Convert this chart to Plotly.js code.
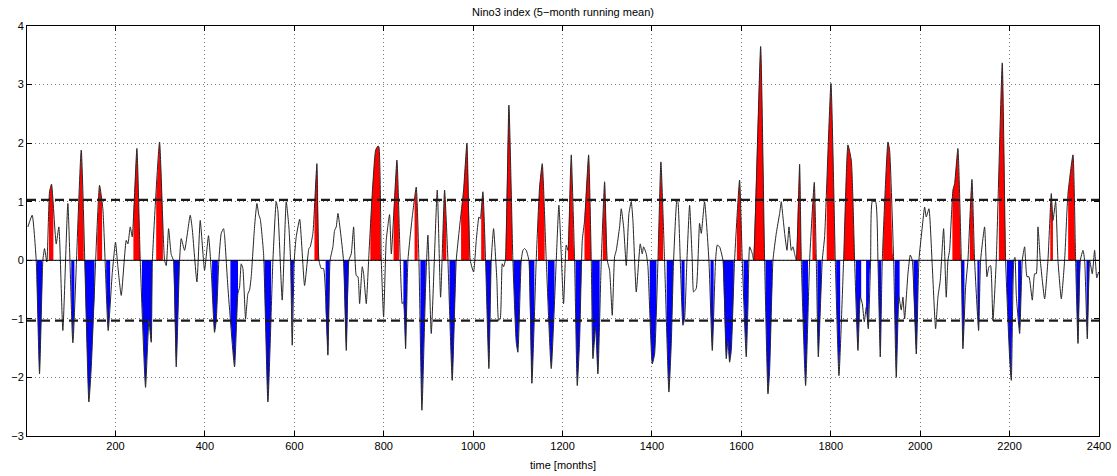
<!DOCTYPE html>
<html><head><meta charset="utf-8">
<script src="https://cdn.plot.ly/plotly-3.0.1.min.js"></script>
<style>html,body{margin:0;padding:0;background:#fff}#chart{width:1117px;height:476px}</style>
</head><body><div id="chart"></div>
<script>
const months = [4,13.6,22.6,30,37.5,41.2,46.4,52.4,56.9,67.3,73.3,82.2,93.4,104.6,123.3,140.4,145.6,164.3,171.7,183.6,192.6,200,
205.3,212.8,224,227.7,233,237.4,247.8,255.3,267.2,274.7,279.9,282.5,298.5,309.7,313.5,318.7,324.6,329.5,335.8,343.3,347,354.5,367.1,371.6,382.1,389.5,399.2,408,
414.1,421.5,425.3,431.2,436.5,441.7,443.9,451.4,466.3,473.7,477.5,481.2,484.9,490.9,496.1,499.8,503.6,511,516.3,520.7,523.7,531.2,540.9,552.1,559.5,563.2,572.9,581.9,587.8,591.6,595.3,599.8,604.2,
612,622.9,632.6,635.6,641.6,650.5,655,660.2,665.4,675.1,680,686.3,690.1,693.8,697.5,710,716.2,722,727.3,732.6,738.5,742.3,746,752,755,760.9,766.9,774.3,781.8,787,789.2,794.5,799.7,
805.6,813,817,829.5,836.9,841.4,844.4,848.9,854.1,863.8,872.7,878.7,885.4,893.6,898.8,906.3,919.7,927.2,936.1,943.6,953.2,962.2,969.7,978.6,986.1,993.5,1001,
1007,1013,1016,1021.8,1027.8,1035.2,1040.5,1045.7,1053.1,1056.9,1060.6,1065.1,1068.1,1072,1080,1088.9,1096.4,1100.1,1107.6,1111.3,1115,1118.8,1124.7,1131.4,1141.1,1148.6,1154.6,1163.5,1174.7,1185.9,1191.8,1202.3,1208.2,1212,1217.2,
1219.5,1226.9,1232.9,1238.1,1244.1,1249.3,1258.3,1264.2,1268,1273.9,1279.1,1286.6,1294.1,1300,1305.2,1311.2,1316.4,1320.2,1327.6,1331.3,1336.6,1342.5,1348.5,1353.7,1357.4,1364.9,1373.8,1378.3,1381.3,1387.3,1391,1400.7,1405.9,1413.4,
1420,1428.2,1437.9,1443.2,1448.4,1455.8,1458.1,1463.3,1469.3,1473,1478.2,1484.2,1490.1,1493.1,1499.1,1506.5,1510.3,1517.7,1527.4,1534.9,1542.3,1546.1,1551.3,1558.7,1566.2,1569.9,1573.7,1577.4,1584.8,1596,1602,1610.9,1614.7,1618.5,
1625,1627.4,1643.1,1652,1659.5,1663.2,1670.7,1678.1,1685.6,1689.3,1693,1696.8,1702,1706.5,1711.7,1715.4,1719.1,1722.9,1730.3,1734,1743.7,1752.7,1763.1,1767.6,1772.1,1781,1786.2,1800.4,1810.1,
1818.3,1828.7,1838.4,1845.9,1849.6,1853.3,1860.8,1866,1870.5,1875,1879.4,1883.9,1889.1,1892.8,1900.3,1905.5,1910.7,1915.2,1927.9,1931.6,1940.6,1946.5,1952.5,1957.7,1961.4,1965.2,1972.6,1977.8,1982.3,1991.3,1997.2,2004.7,2009.9,2013.6,
2019.6,2027,2034.5,2039.7,2044.9,2052.4,2058.3,2062.1,2065.8,2073.3,2077,2084.4,2091.9,2095.6,2101.6,2106.8,2115.8,2121.7,2130.7,2135.2,2144.1,2149.3,2153.8,2157.5,2162.7,2170.2,2183.6,2191.1,2200,2203.8,2209.5,2212,2215,
2222.5,2228.4,2233.6,2238.9,2243.3,2250.8,2256,2259.7,2263.5,2268.7,2278.4,2285.8,2293.3,2297,2303,2308.2,2315.7,2323.1,2330.6,2341.8,2347.7,2353,2358.2,2364.2,2367.9,2373.8,2379.1,2385,2390.2,2395,2399];

const nino3 = [0.57,0.77,0,-1.94,0,0.2,-0.03,1.17,1.30,0.28,0.57,-1.2,0.97,-1.41,1.88,-2.42,-1.85,1.28,0.88,-1.2,-0.23,0.31,
-0.11,-0.6,0.34,0.28,0.57,0.4,1.91,0,-2.17,-1.03,-1.4,0,2.02,0,-0.09,0.54,0.1,0,-1.82,0,0.37,0.17,0.77,0.54,-0.37,0.68,-0.17,0.42,
-0.17,-1.23,-1.03,0,0.46,0.54,0.43,-0.46,-1.82,-0.57,-0.46,-0.06,-0.14,-1.0,-0.57,-0.51,-0.28,0.57,0.97,0.77,0.71,0.11,-2.42,0,1.0,0.85,-0.68,1.0,0.57,0,-1.45,0,0.4,
0.7,-0.43,0.2,0.23,0.46,1.65,0,-0.14,-0.14,-1.62,0,0.23,0.51,0.57,0.8,0,-1.54,0,0.11,0.57,-0.26,-0.28,-0.74,-0.11,-0.23,-0.74,0.11,1.14,1.88,1.95,1.94,0,-0.97,
0.34,0.78,0.11,1.71,0,-0.74,-0.71,-1.51,0,0.74,1.25,0,-2.56,-0.46,0.43,-1.25,1.2,-0.63,1.2,0,-2.05,0,0.57,1.2,2.0,0,-0.2,
0.34,0.74,0.71,1.17,0,-1.85,0,0.54,-0.34,-1.03,-1.0,-0.06,-0.11,0,2.65,0,-1.4,-1.57,0,0.17,0.2,0.17,0,-2.1,0,1.25,1.65,0,-1.85,0,0.94,-0.74,0.26,0.17,1.37,
1.8,0,-2.14,-1.37,0.34,0.68,1.8,0,-1.68,-1.14,-1.94,0,1.34,0,-0.17,-0.94,0.06,0.17,0.57,0.88,0.57,-0.09,0.8,1.0,0.68,-0.54,0.28,0.11,0.23,0.11,-0.11,-1.77,-1.6,0,
1.68,0,-2.25,-1.42,0,1.03,1.0,0,-1.11,-1.0,0,0.94,0,-0.54,-0.48,0.63,0.46,1.0,0,-1.54,0,0.26,0.23,0,-1.68,-1.37,-1.74,-1.54,0,1.37,0,-1.65,-0.8,0.23,
0.1,0,3.65,0,-2.28,-1.88,0,0.46,0.8,1.0,0.74,0.46,0.17,0.57,0.17,0.23,0.11,0,1.64,0,-2.14,0,1.33,0,-1.65,0,0.4,3.02,0,
-1.97,0,1.97,1.71,1.03,0,-1.54,-0.63,-0.74,-1.05,-0.8,-1.17,0,1.0,1.0,0,-1.65,0,2.02,1.88,0,-2.0,-0.63,-0.85,-0.63,-1.0,-0.23,0.09,0,-1.6,0,0.57,0.91,0.74,
0.88,-0.09,-1.17,-0.63,-0.34,0.54,-0.63,0,0.17,1.2,1.31,1.91,0,-1.51,-0.46,0,1.38,0,-1.2,0,0.57,-0.28,-0.11,-0.09,-1.03,0,3.37,0,-1.65,-2.05,0,0.05,-0.6,
-1.25,0,0.23,-0.28,-0.28,-0.68,-0.23,-0.23,0.57,0,-0.66,0,1.14,0.68,1.0,0,-0.66,0,1.14,1.8,0,-1.42,0,0.17,0,-1.34,0,-0.23,0.17,-0.3,-0.2];

// highlighted warm (red) and cold (blue) event windows, in months
const warmStart = [51,116,159,240,291,645,770,822,869,932,973,1018,1073,1145,1212,1249,1290,1413,1590,1627,1723,1759,1791,1829,1917,2072,2111,2176,2291,2331];
const warmEnd   = [61,129,170,255,306,655,795,834,876,940,992,1026,1087,1160,1227,1264,1299,1425,1600,1652,1734,1768,1809,1853,1943,2092,2122,2191,2297,2348];
const coldStart = [24,101,131,179,259,330,416,457,533,592,670,710,844,882,947,1028,1090,1125,1167,1229,1266,1395,1433,1466,1531,1559,1605,1654,1736,1770,1812,1856,1879,1906,1943,1985,2092,2128,2194,2219,2349,2372];
const coldEnd   = [36,108,153,188,282,343,429,474,548,601,679,722,852,894,961,1040,1108,1137,1182,1242,1283,1410,1447,1473,1538,1583,1615,1669,1749,1779,1821,1868,1891,1913,1954,1995,2099,2133,2211,2226,2358,2378];
const threshold = 1.03;
const xTickVals = [200,400,600,800,1000,1200,1400,1600,1800,2000,2200,2400];
const yTickVals = [-3,-2,-1,0,1,2,3,4];

function valueAt(x) {
  for (let k = 0; k < months.length - 1; k++) {
    if (x >= months[k] && x <= months[k + 1]) {
      return nino3[k] + (nino3[k + 1] - nino3[k]) * (x - months[k]) / (months[k + 1] - months[k]);
    }
  }
  return x < months[0] ? nino3[0] : nino3[nino3.length - 1];
}
const lineShape = {shape:'spline', smoothing:0.45};
function windowTrace(a, b, sign, color) {
  const clip = v => sign > 0 ? Math.max(v, 0) : Math.min(v, 0);
  const xs = [a], ys = [clip(valueAt(a))];
  for (let k = 0; k < months.length; k++) {
    if (months[k] > a && months[k] < b) { xs.push(months[k]); ys.push(clip(nino3[k])); }
  }
  xs.push(b); ys.push(clip(valueAt(b)));
  return {x:xs, y:ys, type:'scatter', mode:'lines', fill:'tozeroy', fillcolor:color,
          line:Object.assign({width:0}, lineShape), hoverinfo:'skip'};
}

const traces = [];
warmStart.forEach((a, i) => traces.push(windowTrace(a, warmEnd[i], 1, '#ff0000')));
coldStart.forEach((a, i) => traces.push(windowTrace(a, coldEnd[i], -1, '#0000ff')));
traces.push({x:months, y:nino3, type:'scatter', mode:'lines', line:Object.assign({color:'#262626', width:1}, lineShape)});

const font = '"Liberation Sans", Arial, Helvetica, sans-serif';
const axisCommon = {
  ticks:'inside', ticklen:5, tickwidth:1, tickcolor:'#000',
  showline:true, linecolor:'#000', linewidth:1, mirror:'allticks',
  showgrid:true, gridcolor:'#7a7a7a', griddash:'1px,3px', gridwidth:1,
  zeroline:false, tickfont:{family:font, size:11, color:'#000'}
};
const layout = {
  width:1117, height:476,
  margin:{l:27, r:18, t:26, b:40, pad:0},
  paper_bgcolor:'#fff', plot_bgcolor:'#fff',
  font:{family:font, size:11, color:'#000'},
  showlegend:false,
  title:{text:'Nino3 index (5\u2212month running mean)', x:0.5, xref:'paper', xanchor:'center', y:1-12/476, yanchor:'middle', font:{family:font, size:11, color:'#000'}},
  xaxis:Object.assign({}, axisCommon, {range:[2,2400], tickmode:'array', tickvals:xTickVals, ticktext:xTickVals.map(String),
    title:{text:'time [months]', standoff:10, font:{family:font, size:11, color:'#000'}}}),
  yaxis:Object.assign({}, axisCommon, {range:[-3,4], tickmode:'array', tickvals:yTickVals}),
  shapes:[
    {type:'line', xref:'paper', x0:0, x1:1, yref:'y', y0:0, y1:0, line:{color:'#000', width:1}, layer:'above'},
    {type:'line', xref:'paper', x0:0, x1:1, yref:'y', y0:threshold, y1:threshold, line:{color:'#1a1a1a', width:2.2, dash:'9px,5px'}, layer:'above'},
    {type:'line', xref:'paper', x0:0, x1:1, yref:'y', y0:-threshold, y1:-threshold, line:{color:'#1a1a1a', width:2.2, dash:'9px,5px'}, layer:'above'}
  ]
};
Plotly.newPlot('chart', traces, layout, {staticPlot:true, displayModeBar:false});
</script>
</body></html>
